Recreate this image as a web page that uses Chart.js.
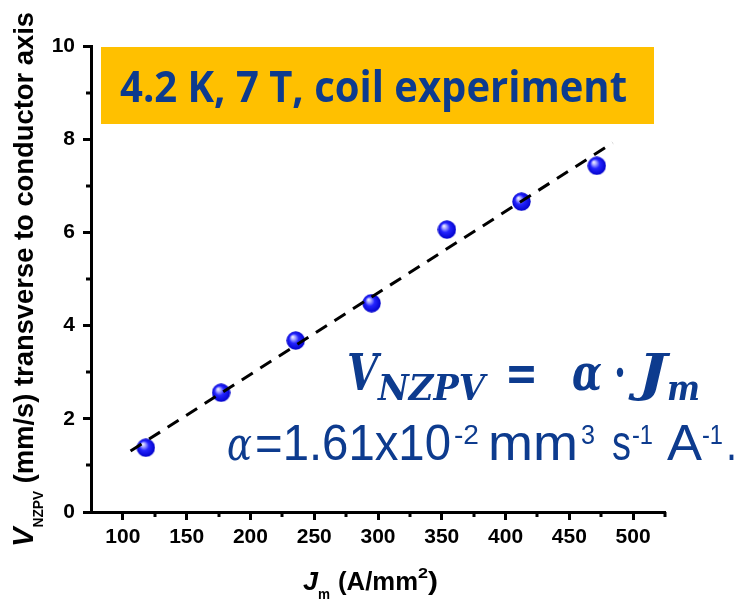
<!DOCTYPE html>
<html>
<head>
<meta charset="utf-8">
<script src="https://cdn.jsdelivr.net/npm/chart.js@4.4.0/dist/chart.umd.min.js"></script>
<style>
body { margin: 0; background: #fff; }
</style>
</head>
<body>
<canvas id="chart" width="744" height="600"></canvas>
<script>
// Coil experiment data (J_m in A/mm2, V_NZPV in mm/s)
const currentDensity = [118, 177, 235.5, 295, 354, 412.5, 471.5];
const velocity = [1.38, 2.56, 3.68, 4.48, 6.06, 6.66, 7.43];

// dashed linear fit, end points
const fitX = [106, 484];
const fitY = [1.31, 7.92];

// axis ticks
const xMajor = [100, 150, 200, 250, 300, 350, 400, 450, 500];
const xMinor = [125, 175, 225, 275, 325, 375, 425, 475, 525];
const yMajor = [0, 2, 4, 6, 8, 10];
const yMinor = [1, 3, 5, 7, 9];

const BLUE_TEXT = "#0d3b8e";
const SANS = "'Liberation Sans', Arial, sans-serif";
const SERIF = "'DejaVu Serif', serif";

// shaded blue ball used as point marker
function makeBall(size) {
    const c = document.createElement("canvas");
    c.width = size;
    c.height = size;
    const g = c.getContext("2d");
    const r = size / 2;
    const grad = g.createRadialGradient(r * 0.65, r * 0.6, 0, r, r, r);
    grad.addColorStop(0, "#ffffff");
    grad.addColorStop(0.22, "#a8a8ff");
    grad.addColorStop(0.5, "#2424ff");
    grad.addColorStop(1, "#0000c8");
    g.fillStyle = grad;
    g.beginPath();
    g.arc(r, r, r - 0.3, 0, Math.PI * 2);
    g.fill();
    return c;
}

// draw text squeezed / stretched to a given width
function fitText(c, text, font, x, y, w) {
    c.save();
    c.font = font;
    c.textAlign = "left";
    c.textBaseline = "alphabetic";
    const natural = c.measureText(text).width;
    c.translate(x, y);
    if (w) c.scale(w / natural, 1);
    c.fillText(text, 0, 0);
    c.restore();
}

const decor = {
    id: "decor",
    beforeDraw(chart) {
        const c = chart.ctx;
        c.save();
        c.fillStyle = "#fff";
        c.fillRect(0, 0, chart.width, chart.height);
        c.restore();
    },
    afterDraw(chart) {
        const c = chart.ctx;
        const xs = chart.scales.x;
        const ys = chart.scales.y;
        const area = chart.chartArea;

        // minor ticks
        c.save();
        c.strokeStyle = "#000";
        c.lineWidth = 3;
        xMinor.forEach(v => {
            const px = Math.round(xs.getPixelForValue(v));
            c.beginPath();
            c.moveTo(px, area.bottom);
            c.lineTo(px, area.bottom + 5);
            c.stroke();
        });
        yMinor.forEach(v => {
            const py = Math.round(ys.getPixelForValue(v));
            c.beginPath();
            c.moveTo(area.left, py);
            c.lineTo(area.left - 5, py);
            c.stroke();
        });
        c.restore();

        // orange label box
        c.save();
        c.fillStyle = "#ffc000";
        c.fillRect(101, 47, 553, 77);
        c.fillStyle = BLUE_TEXT;
        fitText(c, "4.2 K, 7 T, coil experiment", "bold 43px 'Open Sans', 'Noto Sans', sans-serif", 120, 102, 507);

        // equation
        fitText(c, "V", "italic bold 50px " + SERIF, 347, 390, 31);
        fitText(c, "NZPV", "italic bold 36px " + SERIF, 378, 400, 107);
        fitText(c, "=", "bold 50px " + SERIF, 505, 390, 33);
        fitText(c, "\u03b1", "italic bold 50px " + SERIF, 572, 390, 30);
        fitText(c, "\u00b7", "bold 50px " + SERIF, 614, 390, 12);
        fitText(c, "J", "italic bold 50px " + SERIF, 638, 390, 29);
        fitText(c, "m", "italic bold 36px " + SERIF, 667, 400, 33);

        // alpha value
        fitText(c, "\u03b1", "italic 46px " + SERIF, 227, 460, 25);
        fitText(c, "=1.61x10", "50px " + SANS, 255, 460, 196);
        fitText(c, "-2", "27px " + SANS, 454, 444, 25);
        fitText(c, "mm", "50px " + SANS, 488, 460, 90);
        fitText(c, "3", "27px " + SANS, 581, 444, 14);
        fitText(c, "s", "50px " + SANS, 612, 460, 19);
        fitText(c, "-1", "27px " + SANS, 632, 444, 21);
        fitText(c, "A", "50px " + SANS, 667, 460, 35);
        fitText(c, "-1", "27px " + SANS, 702, 444, 21);
        fitText(c, ".", "50px " + SANS, 726, 460, 11);
        c.restore();

        // x axis title
        c.save();
        c.fillStyle = "#000";
        fitText(c, "J", "italic bold 25px " + SANS, 303, 590, 15);
        fitText(c, "m", "bold 15px " + SANS, 318, 599, 12);
        fitText(c, "(A/mm", "bold 25px " + SANS, 338, 590, 80);
        fitText(c, "2", "bold 15px " + SANS, 418, 578, 10);
        fitText(c, ")", "bold 25px " + SANS, 428, 590, 10);
        c.restore();

        // y axis title, rotated
        c.save();
        c.fillStyle = "#000";
        const parts = [
            { t: "V", f: "italic bold 30px " + SANS, dy: 0 },
            { t: "NZPV", f: "bold 14px " + SANS, dy: 10 },
            { t: " (mm/s) transverse to conductor axis", f: "bold 28px " + SANS, dy: 0 }
        ];
        let total = 0;
        parts.forEach(p => {
            c.font = p.f;
            p.w = c.measureText(p.t).width;
            total += p.w;
        });
        const k = 535 / total;
        c.translate(33, 547);
        c.rotate(-Math.PI / 2);
        c.scale(k, 1);
        let pos = 0;
        c.textAlign = "left";
        c.textBaseline = "alphabetic";
        parts.forEach(p => {
            c.font = p.f;
            c.fillText(p.t, pos, p.dy);
            pos += p.w;
        });
        c.restore();
    }
};

const ball = makeBall(19);

const tickFont = { family: SANS, weight: "bold", size: 21 };

new Chart(document.getElementById("chart"), {
    type: "scatter",
    data: {
        datasets: [
            {
                label: "fit",
                type: "line",
                data: fitX.map((x, i) => ({ x: x, y: fitY[i] })),
                borderColor: "#000",
                borderWidth: 3,
                borderDash: [13, 9],
                pointRadius: 0,
                fill: false,
                order: 0
            },
            {
                label: "coil",
                data: currentDensity.map((x, i) => ({ x: x, y: velocity[i] })),
                pointStyle: ball,
                pointRadius: 9,
                order: 1
            }
        ]
    },
    options: {
        responsive: false,
        animation: false,
        layout: { padding: { left: 0, top: 46, right: 79, bottom: 0 } },
        plugins: {
            legend: { display: false },
            tooltip: { enabled: false }
        },
        scales: {
            x: {
                type: "linear",
                min: 75,
                max: 525,
                afterBuildTicks: s => { s.ticks = xMajor.map(v => ({ value: v })); },
                afterFit: s => { s.height = 88; },
                border: { display: true, width: 3, color: "#000" },
                grid: { drawOnChartArea: false, tickLength: 8, tickWidth: 3, tickColor: "#000" },
                ticks: { font: tickFont, color: "#000", padding: 5, maxRotation: 0, autoSkip: false }
            },
            y: {
                type: "linear",
                min: 0,
                max: 10,
                afterBuildTicks: s => { s.ticks = yMajor.map(v => ({ value: v })); },
                afterFit: s => { s.width = 91; },
                border: { display: true, width: 3, color: "#000" },
                grid: { drawOnChartArea: false, tickLength: 8, tickWidth: 3, tickColor: "#000" },
                ticks: { font: tickFont, color: "#000", padding: 8, autoSkip: false }
            }
        }
    },
    plugins: [decor]
});
</script>
</body>
</html>
